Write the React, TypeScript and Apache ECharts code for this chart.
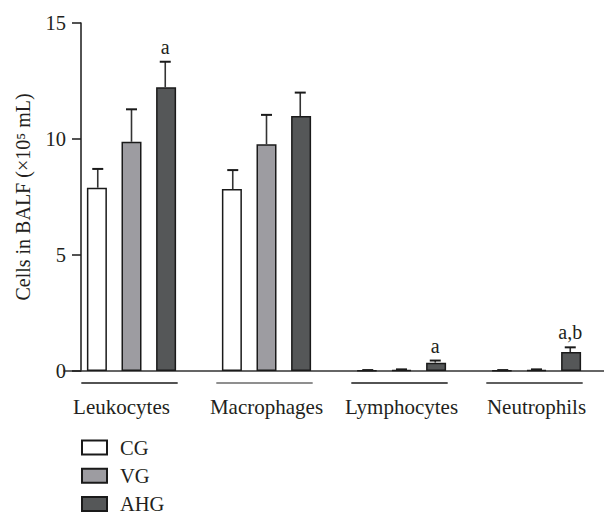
import React, { useEffect, useRef } from "react";
import * as echarts from "echarts";

const categories = ["Leukocytes", "Macrophages", "Lymphocytes", "Neutrophils"];
const groups = ["CG", "VG", "AHG"];
const cgMean = [7.9, 7.84, 0.02, 0.02];
const cgUpper = [8.71, 8.66, 0.04, 0.04];
const vgMean = [9.88, 9.77, 0.04, 0.04];
const vgUpper = [11.28, 11.04, 0.07, 0.07];
const ahgMean = [12.23, 10.99, 0.36, 0.82];
const ahgUpper = [13.33, 12.0, 0.45, 1.02];
const ahgMarks = ["a", "", "a", "a,b"];
const yTicks = [0, 5, 10, 15];

const FONT = "'Liberation Serif', 'Times New Roman', serif";
const TEXT = "#231f20";
const barColors = ["#ffffff", "#9d9ca1", "#555758"];
const underlineColors = ["#1a1a1a", "#6a6a6a", "#1a1a1a", "#2a2a2a"];

export default function App() {
  const ref = useRef<HTMLDivElement>(null);
  useEffect(() => {
    if (!ref.current) return;
    const chart = echarts.init(ref.current, null, { renderer: "svg" });
    const means = [cgMean, vgMean, ahgMean];
    const uppers = [cgUpper, vgUpper, ahgUpper];

    const errData: any[] = [];
    groups.forEach((_, k) => {
      categories.forEach((_, i) => {
        errData.push([i, means[k][i], uppers[k][i], k, k === 2 ? ahgMarks[i] : ""]);
      });
    });

    const barSeries = groups.map((g, k) => ({
      name: g,
      type: "bar",
      data: means[k],
      barWidth: 20,
      barGap: "73%",
      itemStyle: { color: barColors[k], borderColor: "#1a1a1a", borderWidth: 1.5 },
      z: 2,
    }));

    const option: any = {
      animation: false,
      grid: { left: 64, right: -14.75, top: 23, bottom: 144, containLabel: false },
      legend: {
        data: groups,
        orient: "vertical",
        left: 81,
        top: 437,
        height: 100,
        padding: 0,
        itemWidth: 25,
        itemHeight: 14,
        itemGap: 7.2,
        icon: "rect",
        textStyle: { fontFamily: FONT, fontSize: 20.5, color: TEXT, padding: [0, 0, 0, 8] },
        selectedMode: false,
      },
      xAxis: {
        type: "category",
        data: categories.map((c, i) =>
          i === 0 ? { value: c, textStyle: { padding: [0, 20, 0, 0] } } : c
        ),
        axisLine: { show: true, lineStyle: { color: "#333", width: 1.5 } },
        axisTick: { show: false },
        axisLabel: { fontFamily: FONT, fontSize: 21, color: TEXT, margin: 25, interval: 0, hideOverlap: false },
      },
      yAxis: {
        type: "value",
        min: 0,
        max: 15,
        interval: 5,
        offset: -17,
        name: "Cells in BALF (×10⁵ mL)",
        nameLocation: "middle",
        nameGap: 48,
        nameTextStyle: { fontFamily: FONT, fontSize: 20, color: TEXT },
        axisLine: { show: true, lineStyle: { color: "#1a1a1a", width: 1.5 } },
        axisTick: { show: true, length: 9, lineStyle: { color: "#1a1a1a", width: 1.5 } },
        axisLabel: {
          fontFamily: FONT,
          fontSize: 20.5,
          color: TEXT,
          margin: 15,
          customValues: yTicks,
        },
        splitLine: { show: false },
      },
      series: [
        ...barSeries,
        {
          type: "custom",
          name: "err",
          data: errData,
          z: 3,
          encode: { x: 0, y: [1, 2] },
          renderItem: (params: any, api: any) => {
            const cat = api.value(0);
            const mean = api.value(1);
            const up = api.value(2);
            const k = api.value(3);
            const mark = errData[params.dataIndex][4];
            const band = api.size([1, 0])[0];
            const off = (k - 1) * band * 0.25;
            const p0 = api.coord([cat, mean]);
            const p1 = api.coord([cat, up]);
            const x = p0[0] + off;
            const children: any[] = [
              {
                type: "line",
                shape: { x1: x, y1: p0[1], x2: x, y2: p1[1] },
                style: { stroke: "#333", lineWidth: 1.6 },
              },
              {
                type: "line",
                shape: { x1: x - 5.5, y1: p1[1], x2: x + 5.5, y2: p1[1] },
                style: { stroke: "#1a1a1a", lineWidth: 2 },
              },
            ];
            if (mark) {
              children.push({
                type: "text",
                style: {
                  x: x,
                  y: p1[1] - 5,
                  text: mark,
                  align: "center",
                  verticalAlign: "bottom",
                  font: `20px ${FONT}`,
                  fill: TEXT,
                },
              });
            }
            return { type: "group", children };
          },
        },
        {
          type: "custom",
          name: "underline",
          data: categories.map((_, i) => [i, 0]),
          z: 3,
          renderItem: (params: any, api: any) => {
            const cat = api.value(0);
            const band = api.size([1, 0])[0];
            const p = api.coord([cat, 0]);
            const half = band * 0.357;
            return {
              type: "line",
              shape: { x1: p[0] - half - 2, y1: p[1] + 12, x2: p[0] + half - 2, y2: p[1] + 12 },
              style: { stroke: underlineColors[params.dataIndex], lineWidth: 1.5 },
            };
          },
        },
      ],
    };
    chart.setOption(option);
    return () => chart.dispose();
  }, []);
  return (
    <div
      ref={ref}
      style={{ position: "fixed", left: 0, top: 0, width: 604, height: 515, background: "#fff" }}
    />
  );
}
